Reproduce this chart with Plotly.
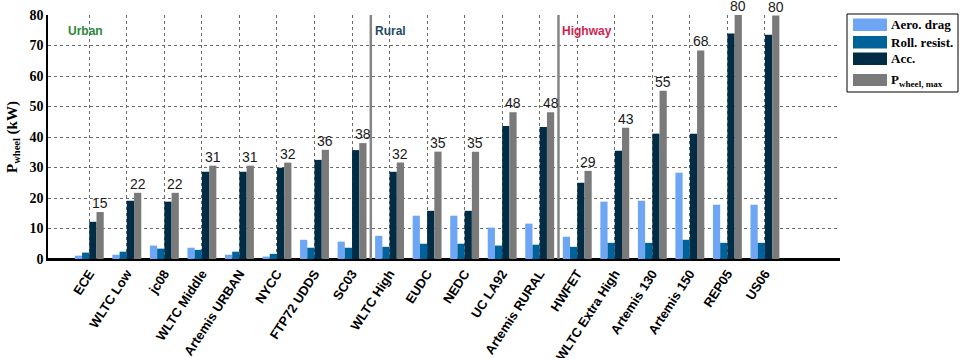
import plotly.graph_objects as go

# Driving cycles and wheel power components (kW)
cycles = ["ECE", "WLTC Low", "jc08", "WLTC Middle", "Artemis URBAN", "NYCC",
          "FTP72 UDDS", "SC03", "WLTC High", "EUDC", "NEDC", "UC LA92",
          "Artemis RURAL", "HWFET", "WLTC Extra High", "Artemis 130",
          "Artemis 150", "REP05", "US06"]
aero_drag = [1.1, 1.4, 4.4, 3.7, 1.4, 0.8, 6.3, 5.7, 7.6, 14.2, 14.2, 10.3,
             11.6, 7.3, 18.8, 19.1, 28.3, 17.8, 17.8]
roll_resist = [2.1, 2.4, 3.4, 3.0, 2.4, 1.7, 3.7, 3.7, 4.0, 5.0, 5.0, 4.4,
               4.7, 4.0, 5.3, 5.3, 6.3, 5.3, 5.3]
acceleration = [12.2, 19.1, 18.8, 28.6, 28.6, 29.9, 32.5, 35.7, 28.6, 15.8,
                15.8, 43.6, 43.3, 25.0, 35.5, 41.1, 41.1, 73.9, 73.5]
p_wheel_max = [15.4, 21.7, 21.7, 30.6, 30.6, 31.6, 35.8, 38.0, 31.6, 35.2,
               35.2, 48.1, 48.1, 28.9, 43.0, 55.2, 68.4, 80.0, 79.8]

series_names = ["Aero. drag", "Roll. resist.", "Acc.", "P<sub>wheel, max</sub>"]
series_colors = ["#6ea6f5", "#00629a", "#002c45", "#7a7a7a"]

W, H = 961, 358
M_L, M_R, M_T, M_B = 48, 121, 15, 99
PW, PH = W - M_L - M_R, H - M_T - M_B
X_RANGE = [-1.1, 20.0]
BARGAP = 0.23


def px_x(px):
    return (px - M_L) / PW


def px_y(py):
    return 1 - (py - M_T) / PH


fig = go.Figure()
for name, vals, col in zip(series_names, [aero_drag, roll_resist, acceleration, p_wheel_max], series_colors):
    fig.add_trace(go.Bar(x=cycles, y=vals, name=name, showlegend=False,
                         marker=dict(color=col, line=dict(width=0))))

annotations = []

# Value labels above the P_wheel,max bars (fourth bar of each group)
cat_px = PW / (X_RANGE[1] - X_RANGE[0])
bar_px = (1 - BARGAP) * cat_px / 4
for c, v in zip(cycles, p_wheel_max):
    annotations.append(dict(x=c, y=v, xref="x", yref="y", text=f"{v:.0f}", showarrow=False,
                            xanchor="center", yanchor="bottom", xshift=1.5 * bar_px, yshift=-1,
                            font=dict(family="Liberation Sans", size=14, color="#1a1a1a")))

# Section separators between urban / rural / highway cycles
for xs in (7.5, 12.5):
    fig.add_shape(type="line", x0=xs, x1=xs, y0=0, y1=80, xref="x", yref="y",
                  line=dict(color="#858585", width=2.5), layer="above")

sections = [("Urban", -0.62, "#2a8a3a"), ("Rural", 7.55, "#1d4a68"), ("Highway", 12.55, "#d41e50")]
for txt, xs, col in sections:
    annotations.append(dict(x=xs, y=74.8, xref="x", yref="y", text=txt, showarrow=False,
                            xanchor="left", yanchor="middle",
                            font=dict(family="Liberation Sans", size=12, color=col, weight="bold")))

# Legend drawn as a framed box with wide swatches
fig.add_shape(type="rect", xref="paper", yref="paper", x0=px_x(847), x1=px_x(958),
              y0=px_y(92), y1=px_y(14), line=dict(color="black", width=1),
              fillcolor="white", layer="above")
rows = [(18.5, 31), (36, 48.5), (52.5, 65), (74, 86)]
for (t, b), name, col in zip(rows, series_names, series_colors):
    fig.add_shape(type="rect", xref="paper", yref="paper", x0=px_x(853), x1=px_x(887),
                  y0=px_y(b), y1=px_y(t), line=dict(width=0), fillcolor=col, layer="above")
    annotations.append(dict(x=px_x(889), y=px_y((t + b) / 2), xref="paper", yref="paper",
                            text=name, showarrow=False, xanchor="left", yanchor="middle",
                            font=dict(family="Liberation Serif", size=13, color="black", weight="bold")))

fig.update_layout(
    width=W, height=H,
    margin=dict(l=M_L, r=M_R, t=M_T, b=M_B, pad=0, autoexpand=False),
    paper_bgcolor="white", plot_bgcolor="white",
    barmode="group", bargap=BARGAP, bargroupgap=0,
    annotations=annotations,
    xaxis=dict(range=X_RANGE, tickangle=-57, showgrid=True, griddash="dot",
               gridcolor="#6a6a6a", gridwidth=1, showline=True, linecolor="black",
               linewidth=2, ticks="", automargin=False,
               tickfont=dict(family="Liberation Sans", size=13, color="black", weight="bold")),
    yaxis=dict(range=[0, 80], dtick=10, showgrid=True, griddash="dot", gridcolor="#6a6a6a",
               gridwidth=1, showline=True, linecolor="black", linewidth=1.5, ticks="",
               zeroline=True, zerolinecolor="black", zerolinewidth=2, automargin=False,
               tickfont=dict(family="Liberation Serif", size=14, color="black", weight="bold"),
               title=dict(text="P<sub>wheel</sub> (kW)", standoff=8,
                          font=dict(family="Liberation Serif", size=15, color="black", weight="bold"))),
)

fig.write_html("out.html")
